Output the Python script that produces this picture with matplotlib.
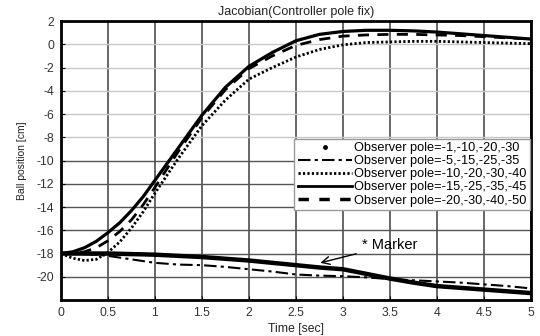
import matplotlib
matplotlib.use("Agg")
import matplotlib.pyplot as plt
from matplotlib.lines import Line2D

plt.rcParams['font.family'] = ['Liberation Sans', 'DejaVu Sans']
plt.rcParams['axes.unicode_minus'] = False

# time axis [sec] (finer in the first second where the curves bend)
time = [0, 0.125, 0.25, 0.375, 0.5, 0.625, 0.75, 0.875, 1.0, 1.25, 1.5, 1.75, 2.0,
        2.25, 2.5, 2.75, 3.0, 3.25, 3.5, 3.75, 4.0, 4.25, 4.5, 4.75, 5.0]

# ball position [cm] for each observer pole set
pole_1 = [-18.0, -18.0, -18.0, -18.0, -18.0, -18.02, -18.05, -18.07, -18.1, -18.2, -18.3,
          -18.45, -18.6, -18.8, -19.0, -19.2, -19.35, -19.75, -20.15, -20.5, -20.8,
          -20.95, -21.1, -21.25, -21.4]
pole_5 = [-18.0, -18.0, -18.05, -18.1, -18.2, -18.35, -18.5, -18.65, -18.8, -18.95, -19.0,
          -19.15, -19.35, -19.55, -19.8, -19.9, -19.95, -20.05, -20.2, -20.3, -20.4,
          -20.5, -20.65, -20.8, -21.0]
pole_10 = [-18.0, -18.4, -18.6, -18.5, -17.9, -17.0, -15.8, -14.4, -12.8, -9.8, -7.0,
           -4.8, -3.0, -2.0, -1.1, -0.45, -0.05, 0.15, 0.2, 0.25, 0.25,
           0.2, 0.15, 0.1, 0.05]
pole_15 = [-18.0, -17.85, -17.5, -16.95, -16.2, -15.35, -14.3, -13.1, -11.7, -8.9, -6.1,
           -3.7, -1.9, -0.7, 0.3, 0.85, 1.1, 1.2, 1.2, 1.15, 1.05,
           0.9, 0.75, 0.6, 0.45]
pole_20 = [-18.0, -18.0, -17.85, -17.5, -16.9, -16.1, -15.1, -13.8, -12.3, -9.2, -6.3,
           -3.9, -2.1, -1.0, -0.1, 0.4, 0.7, 0.8, 0.85, 0.85, 0.8,
           0.75, 0.65, 0.55, 0.45]

labels = ['Observer pole=-1,-10,-20,-30',
          'Observer pole=-5,-15,-25,-35',
          'Observer pole=-10,-20,-30,-40',
          'Observer pole=-15,-25,-35,-45',
          'Observer pole=-20,-30,-40,-50']

fig = plt.figure(figsize=(5.4, 3.36), dpi=100)
ax = fig.add_axes([0.113, 0.107, 0.87, 0.8305])

# the "marker" series is drawn so densely it looks like a thick line
ax.plot(time, pole_1, color='black', lw=3.2, solid_capstyle='butt')
ax.plot(time, pole_5, color='black', lw=1.5, ls=(0, (6, 2, 1.5, 2)))
ax.plot(time, pole_10, color='black', lw=2.0, ls=(0, (0.8, 0.8)))
ax.plot(time, pole_15, color='black', lw=2.3)
ax.plot(time, pole_20, color='black', lw=2.0, ls=(0, (4, 3)))

handles = [Line2D([], [], color='black', marker='.', ls='none', markersize=5),
           Line2D([], [], color='black', lw=1.5, ls=(0, (6, 2, 1.5, 2))),
           Line2D([], [], color='black', lw=2.0, ls=(0, (0.8, 0.8))),
           Line2D([], [], color='black', lw=2.0),
           Line2D([], [], color='black', lw=2.5, ls=(0, (3, 3)))]
leg = ax.legend(handles, labels, loc='center right', bbox_to_anchor=(0.999, 0.45),
                fontsize=9.2, handlelength=4.2, labelspacing=0.08, borderpad=0.3,
                handletextpad=0.2, fancybox=False, framealpha=1, borderaxespad=0)
leg.get_frame().set_edgecolor('#999999')
leg.get_frame().set_linewidth(1.0)

ax.annotate('* Marker', xy=(2.76, -18.8), xytext=(3.2, -17.3),
            fontsize=10.5, ha='left', va='center',
            arrowprops=dict(arrowstyle='->', color='black', lw=1.0,
                            shrinkA=2, shrinkB=0, mutation_scale=14))

ax.set_xlim(0, 5)
ax.set_ylim(-22, 2)
ax.set_xticks([0, 0.5, 1, 1.5, 2, 2.5, 3, 3.5, 4, 4.5, 5])
ax.set_xticklabels(['0', '0.5', '1', '1.5', '2', '2.5', '3', '3.5', '4', '4.5', '5'])
ax.set_yticks(range(-20, 3, 2))
ax.tick_params(direction='in', length=3, labelsize=8.8, labelcolor='#333333', pad=5)

ax.grid(axis='x', color='#5a5a5a', lw=1.3)
ax.grid(axis='y', color='#c8c8c8', lw=1.0)
for val, gl in zip(ax.get_yticks(), ax.get_ygridlines()):
    if val <= -10:
        gl.set_color('#555555')
ax.set_axisbelow(True)
for sp in ax.spines.values():
    sp.set_linewidth(2.0)

ax.set_title('Jacobian(Controller pole fix)', fontsize=9, color='#222222', pad=4)
ax.set_xlabel('Time [sec]', fontsize=8.8, color='#222222', labelpad=3)
ax.set_ylabel('Ball position [cm]', fontsize=7.5, color='#222222', labelpad=7)

fig.savefig('out.png', dpi=100)
